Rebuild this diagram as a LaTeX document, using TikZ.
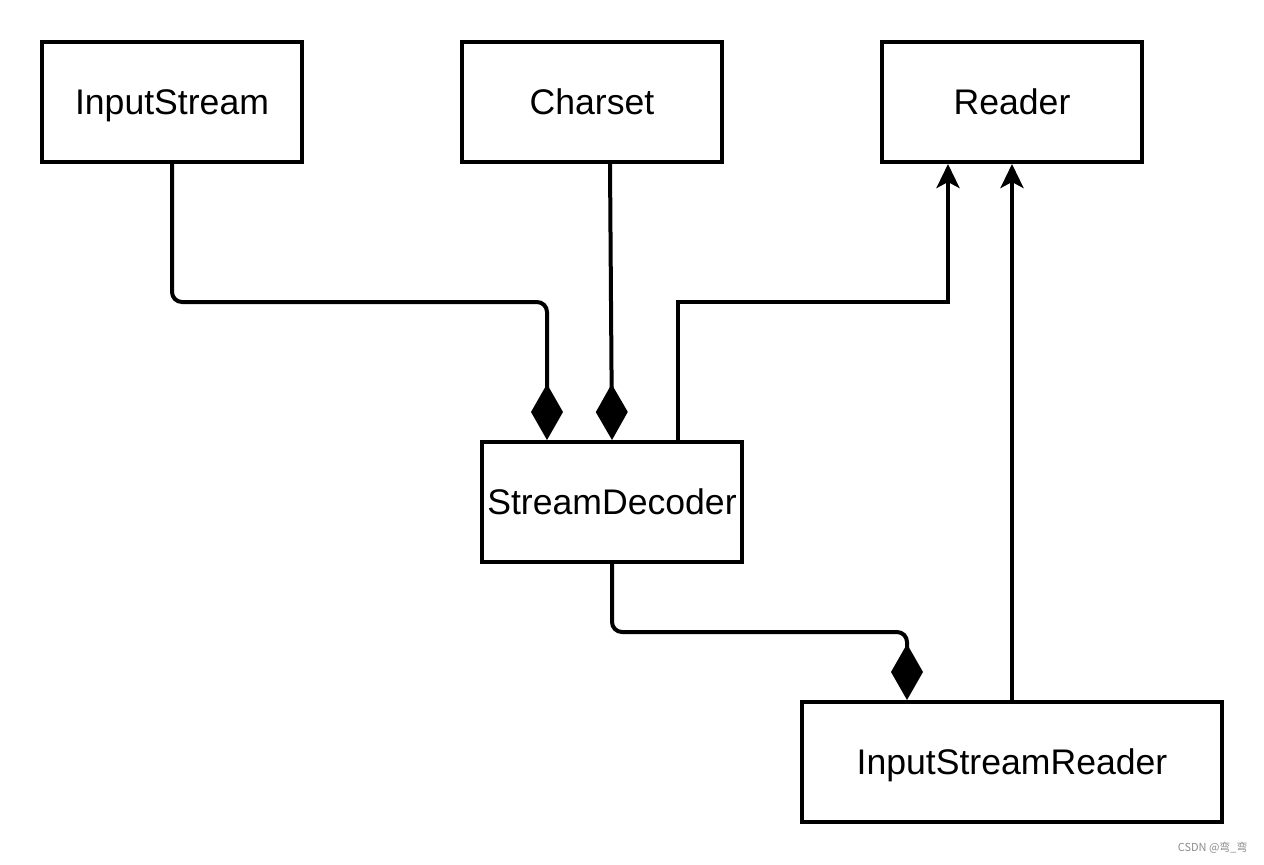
\documentclass[tikz,border=0pt]{standalone}
\usepackage{fontspec}
\setmainfont{Liberation Sans}
\newfontfamily\cjkfont{Noto Sans CJK SC}
\usetikzlibrary{arrows.meta}
\begin{document}
\begin{tikzpicture}[x=0.5pt,y=-0.5pt,
  box/.style={draw=black, line width=2pt, fill=white, minimum width=130pt, minimum height=60pt, inner sep=0pt,
    text height=12.75pt, text depth=0pt,
    font=\fontsize{17.8}{21}\selectfont},
  conn/.style={draw=black, line width=2pt},
  comp/.style={conn, -{Diamond[length=28pt,width=16pt]}},
  gen/.style={conn, -{Stealth[length=12pt,width=11.5pt,inset=3pt]}}]
\useasboundingbox[fill=white] (0,0) rectangle (1264,864);
\node[box] (is) at (172,102) {InputStream};
\node[box] (cs) at (592,102) {Charset};
\node[box] (rd) at (1012,102) {Reader};
\node[box] (sd) at (612,502) {StreamDecoder};
\node[box, minimum width=210pt] (isr) at (1012,762) {InputStreamReader};
\coordinate (j1) at (547,302);
\coordinate (j2) at (948,302);
\coordinate (j3) at (907,632);
\draw[comp, rounded corners=5pt] (is.south) |- (j1) -- (j1 |- sd.north);
\draw[comp] ([xshift=9pt]cs.south) -- (sd.north);
\draw[gen] ([xshift=33pt]sd.north) |- (j2) -- (j2 |- rd.south);
\draw[gen] (isr.north) -- (rd.south);
\draw[comp, rounded corners=5pt] (sd.south) |- (j3) -- (j3 |- isr.north);
\node[text=black!45, font=\cjkfont\fontsize{5.5}{6}\selectfont, anchor=east, inner sep=0pt] (wm) at (1248,848) {CSDN @弯\_弯};
\end{tikzpicture}
\end{document}
